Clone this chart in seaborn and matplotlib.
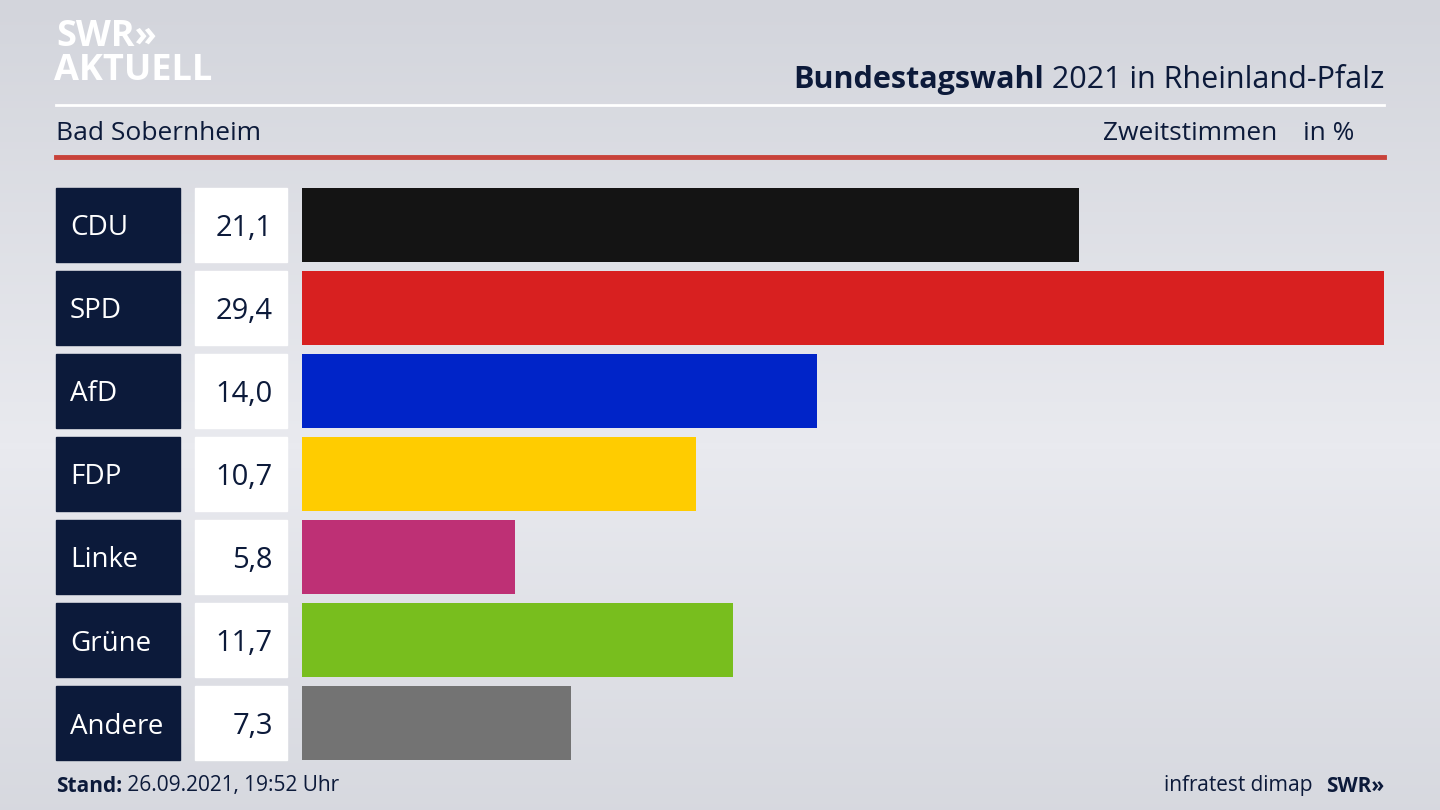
import numpy as np
import pandas as pd
import matplotlib
matplotlib.use("Agg")
import matplotlib.pyplot as plt
import matplotlib.transforms as mtrans
from matplotlib.patches import Rectangle
import seaborn as sns

parties = ["CDU", "SPD", "AfD", "FDP", "Linke", "Grüne", "Andere"]
values = [21.1, 29.4, 14.0, 10.7, 5.8, 11.7, 7.3]
colors = ["#141414", "#d82020", "#0024c8", "#ffcc00", "#be3075", "#78be1e", "#737373"]
value_labels = ["21,1", "29,4", "14,0", "10,7", "5,8", "11,7", "7,3"]

W, H = 1440, 810
plt.rcParams["font.family"] = "Open Sans"
fig = plt.figure(figsize=(W / 100, H / 100), dpi=100)

# background gradient
bg = fig.add_axes([0, 0, 1, 1])
grad = np.linspace(0, 1, 256)
img = np.abs(grad - 0.55)[:, None] * np.ones((1, 2))
bg.imshow(img, aspect="auto", cmap=matplotlib.colors.LinearSegmentedColormap.from_list(
    "bg", ["#e9eaef", "#d3d5dc"]), extent=[0, 1, 0, 1])
bg.set_axis_off()

def fx(px):
    return px / W

def fy(py):
    return 1 - py / H

step = (761 - 188) / 6.9
top = 188 - (step - 74) / 2
ax = fig.add_axes([fx(302), fy(top + 7 * step), fx(1384) - fx(302), 7 * step / H])
df = pd.DataFrame({"party": parties, "value": values})
sns.barplot(data=df, x="value", y="party", hue="party", palette=colors,
            orient="h", width=74 / step, legend=False, ax=ax, saturation=1)
ax.set_xlim(0, 29.4)
ax.set_ylim(6.5, -0.5)
ax.set_axis_off()

tr = mtrans.blended_transform_factory(fig.transFigure, ax.transData)
h = 74 / step
for i, (p, lab) in enumerate(zip(parties, value_labels)):
    fig.patches.append(Rectangle((fx(56), i - h / 2), fx(180) - fx(56), h,
                                 transform=tr, color="#0c1a3a", zorder=1))
    fig.patches.append(Rectangle((fx(195), i - h / 2), fx(287) - fx(195), h,
                                 transform=tr, color="white", zorder=1))
    fig.text(fx(70), i + 0.04, p, transform=tr, color="white", fontsize=20, va="center", ha="left")
    fig.text(fx(273), i + 0.04, lab, transform=tr, color="#0c1a3a", fontsize=21, va="center", ha="right")

navy = "#0c1a3a"
# header
t1 = fig.text(fx(1384), fy(80), " 2021 in Rheinland-Pfalz", fontsize=22, color=navy,
              ha="right", va="center")
r = fig.canvas.get_renderer()
bb = t1.get_window_extent(renderer=r)
fig.text(bb.x0 / W, fy(80), "Bundestagswahl", fontsize=22, color=navy, fontweight="bold",
         ha="right", va="center")
fig.lines.append(plt.Line2D([fx(56), fx(1384)], [fy(105), fy(105)], color="white", lw=2,
                            transform=fig.transFigure))
fig.text(fx(56), fy(134), "Bad Sobernheim", fontsize=19, color=navy, va="center")
fig.text(fx(1277), fy(134), "Zweitstimmen", fontsize=19, color=navy, va="center", ha="right")
fig.text(fx(1354), fy(134), "in %", fontsize=19, color=navy, va="center", ha="right")
fig.lines.append(plt.Line2D([fx(56), fx(1384)], [fy(157), fy(157)], color="#c8423a", lw=3.5,
                            transform=fig.transFigure))

# logo
fig.text(fx(56), fy(37), "SWR»", fontsize=26, color="white", fontweight="bold", va="center")
fig.text(fx(54), fy(71), "AKTUELL", fontsize=26, color="white", fontweight="bold", va="center")

# footer
t2 = fig.text(fx(56), fy(786), "Stand:", fontsize=15, color=navy, fontweight="bold", va="center")
bb2 = t2.get_window_extent(renderer=r)
fig.text(bb2.x1 / W, fy(786), " 26.09.2021, 19:52 Uhr", fontsize=15, color=navy, va="center")
fig.text(fx(1384), fy(786), "SWR»", fontsize=15, color=navy, fontweight="bold", va="center", ha="right")
fig.text(fx(1312), fy(786), "infratest dimap", fontsize=15, color=navy, va="center", ha="right")

fig.savefig("out.png", dpi=100)
